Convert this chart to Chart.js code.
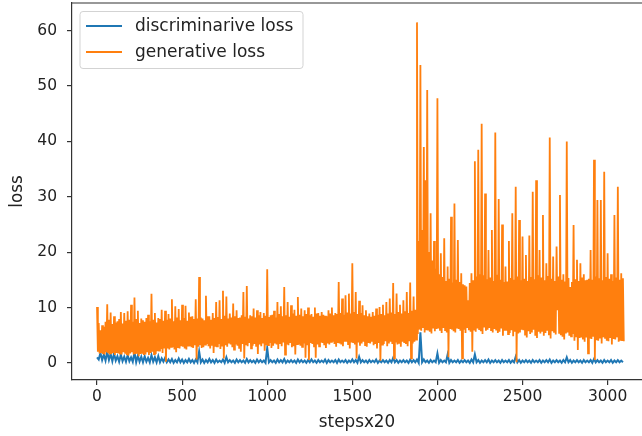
<!DOCTYPE html>
<html>
<head>
<meta charset="utf-8">
<script src="https://cdn.jsdelivr.net/npm/chart.js@4.4.0/dist/chart.umd.min.js"></script>
<style>
  html, body { margin: 0; padding: 0; background: #fff; overflow: hidden; }
</style>
</head>
<body>
<canvas id="lossChart" width="642" height="436"></canvas>
<script>
// discriminator loss, one sample every 10 steps (x axis is stepsx20)
const discLoss = [
  1.0, 0.6, 1.8, 0.5, 1.5, 0.4, 2.0, 0.5, 1.6, 0.3,
  1.7, 0.4, 1.2, 0.2, 1.5, 0.3, 1.1, 0.2, 1.4, 0.3,
  1.0, 0.2, 1.9, 0.1, 1.3, 0.2, 1.1, 0.1, 1.2, 0.2,
  0.9, 0.1, 1.4, 0.2, 1.0, 0.1, 1.2, 0.1, 0.8, 0.2,
  0.9, 0.1, 0.6, 0.1, 0.7, 0.0, 0.5, 0.1, 0.8, 0.1,
  0.6, 0.0, 0.5, 0.1, 0.7, 0.1, 0.5, 0.0, 0.6, 0.1,
  2.1, 0.1, 0.6, 0.0, 0.5, 0.1, 0.7, 0.1, 0.5, 0.0,
  0.6, 0.1, 0.4, 0.1, 0.6, 0.0, 1.0, 0.1, 0.5, 0.1,
  0.4, 0.0, 0.6, 0.1, 0.5, 0.1, 0.4, 0.0, 0.7, 0.1,
  0.5, 0.1, 0.4, 0.0, 0.6, 0.1, 0.5, 0.1, 0.4, 0.0,
  2.7, 0.1, 0.5, 0.1, 0.4, 0.0, 0.6, 0.1, 0.5, 0.1,
  0.7, 0.0, 0.4, 0.1, 0.5, 0.1, 0.4, 0.0, 0.6, 0.1,
  0.5, 0.1, 0.4, 0.0, 0.5, 0.1, 0.6, 0.1, 0.4, 0.0,
  0.5, 0.1, 0.4, 0.1, 0.6, 0.0, 0.5, 0.1, 0.4, 0.1,
  0.5, 0.0, 0.6, 0.1, 0.4, 0.1, 0.5, 0.0, 0.4, 0.1,
  0.6, 0.1, 0.5, 0.0, 1.1, 0.1, 0.5, 0.1, 0.4, 0.0,
  0.5, 0.1, 0.4, 0.1, 0.6, 0.0, 0.4, 0.1, 0.5, 0.1,
  0.4, 0.0, 0.5, 0.1, 0.9, 0.1, 0.5, 0.0, 0.4, 0.1,
  0.5, 0.1, 0.4, 0.0, 0.6, 0.1, 0.5, 0.1, 0.6, 0.0,
  5.5, 0.1, 0.6, 0.1, 0.4, 0.0, 0.5, 0.1, 0.4, 0.1,
  1.7, 0.0, 0.5, 0.1, 0.4, 0.1, 1.5, 0.0, 0.5, 0.1,
  0.4, 0.1, 0.5, 0.0, 0.4, 0.1, 0.5, 0.1, 0.4, 0.0,
  0.6, 0.1, 1.5, 0.1, 0.5, 0.0, 0.4, 0.1, 0.5, 0.1,
  0.6, 0.0, 0.4, 0.1, 0.5, 0.1, 0.4, 0.0, 0.5, 0.1,
  0.4, 0.1, 0.5, 0.0, 0.4, 0.1, 1.1, 0.1, 0.5, 0.0,
  0.4, 0.1, 0.5, 0.1, 0.4, 0.0, 0.5, 0.1, 0.4, 0.1,
  0.5, 0.0, 0.4, 0.1, 0.5, 0.1, 0.6, 0.0, 0.4, 0.1,
  0.5, 0.1, 0.4, 0.0, 0.5, 0.1, 1.0, 0.1, 0.5, 0.0,
  0.4, 0.1, 0.5, 0.1, 0.4, 0.0, 0.5, 0.1, 0.4, 0.1,
  0.5, 0.0, 0.7, 0.1, 0.5, 0.1, 0.4, 0.0, 0.5, 0.1,
  0.4, 0.1, 0.5, 0.0, 0.4, 0.1, 0.5, 0.1, 0.4, 0.1
];

// generator loss, one sample every 5 steps
const genLoss = [
  10.1, 2.0, 7.2, 1.7, 5.9, 1.8, 6.8, 1.6, 6.5, 1.5, 7.4, 1.9, 10.6, 1.9, 7.8, 1.5, 9.1, 1.6, 7.0, 1.8,
  8.4, 1.4, 7.3, 1.8, 7.5, 1.7, 7.9, 1.5, 9.2, 1.5, 7.1, 1.9, 9.0, 1.8, 7.6, 1.4, 9.3, 1.3, 7.8, 1.7,
  10.5, 1.9, 7.4, 1.5, 11.8, 1.6, 7.9, 1.8, 9.4, 1.2, 7.2, 1.6, 8.0, 1.8, 7.7, 1.4, 7.4, 1.5, 8.1, 1.9,
  8.7, 1.4, 7.5, 1.8, 12.5, 2.0, 7.8, 1.6, 9.0, 1.6, 7.3, 2.1, 8.1, 2.2, 7.9, 2.5, 9.6, 1.8, 7.6, 2.6,
  9.4, 0.2, 7.8, 2.6, 8.8, 2.4, 8.0, 2.9, 11.5, 2.8, 7.5, 2.4, 10.2, 1.9, 8.2, 2.7, 9.7, 2.6, 7.7, 3.0,
  10.5, 2.9, 8.1, 2.6, 10.3, 2.4, 7.6, 3.1, 9.1, 3.0, 8.3, 2.8, 8.4, 2.7, 7.9, 3.2, 11.5, 0.6, 8.0, 2.9,
  15.5, 3.2, 8.2, 2.7, 8.0, 2.8, 7.7, 3.3, 12.1, 3.4, 8.4, 3.0, 8.4, 2.6, 7.8, 3.1, 9.0, 1.8, 8.1, 2.9,
  11.0, 3.0, 8.3, 3.4, 11.3, 2.5, 7.9, 3.1, 13.0, 0.8, 8.5, 3.2, 12.0, 2.9, 8.0, 3.5, 8.9, 3.3, 8.2, 2.8,
  10.7, 2.4, 8.4, 3.3, 9.5, 3.1, 8.1, 2.7, 8.2, 2.0, 8.6, 3.4, 12.8, 0.8, 8.3, 3.2, 13.9, 3.0, 8.0, 3.6,
  8.6, 2.6, 8.4, 3.1, 9.8, 3.4, 8.2, 2.9, 9.5, 1.6, 8.6, 3.3, 9.2, 3.0, 8.1, 3.5, 9.0, 2.2, 8.5, 3.2,
  16.9, 3.2, 8.3, 3.6, 8.6, 2.7, 8.7, 3.1, 9.4, 3.5, 8.2, 3.3, 11.0, 2.5, 8.8, 3.4, 10.2, 3.0, 8.4, 3.7,
  13.7, 1.5, 8.6, 3.3, 11.0, 3.2, 8.3, 3.6, 10.4, 2.8, 8.9, 3.0, 9.6, 1.5, 8.5, 3.4, 11.9, 3.3, 8.7, 3.1,
  9.8, 2.9, 8.4, 3.5, 9.5, 0.9, 8.8, 3.2, 10.0, 0.5, 8.6, 3.6, 8.8, 3.4, 8.3, 3.0, 10.0, 0.9, 8.9, 3.3,
  9.0, 3.0, 8.5, 3.7, 9.2, 3.6, 8.7, 3.2, 8.5, 2.7, 8.4, 3.5, 9.5, 3.3, 8.9, 3.8, 10.0, 3.8, 8.6, 3.4,
  9.0, 2.9, 8.8, 3.6, 14.6, 3.5, 9.0, 3.3, 11.6, 3.0, 8.7, 3.8, 12.2, 3.8, 9.1, 3.4, 12.5, 2.6, 8.9, 3.7,
  18.0, 3.6, 9.2, 3.3, 12.8, 0.8, 8.8, 3.7, 11.2, 3.1, 9.0, 3.5, 10.4, 3.8, 8.6, 3.2, 9.5, 2.9, 8.4, 3.6,
  8.9, 3.5, 8.3, 3.8, 9.2, 3.2, 8.5, 3.4, 9.8, 2.6, 8.7, 3.6, 10.1, 0.4, 8.8, 3.3, 10.5, 3.4, 8.6, 3.9,
  11.0, 3.0, 8.9, 3.5, 11.6, 3.8, 9.1, 3.4, 14.4, 0.8, 8.8, 3.7, 12.5, 3.3, 9.2, 3.6, 10.5, 2.9, 8.9, 3.8,
  11.3, 3.6, 9.3, 3.4, 12.8, 3.0, 9.0, 3.9, 14.5, 0.8, 9.4, 3.5, 12.0, 3.8, 9.6, 4.2, 61.5, 5.2, 22.0, 6.0,
  53.8, 5.8, 24.0, 6.3, 39.0, 5.5, 33.0, 5.9, 49.3, 6.0, 20.0, 5.6, 27.0, 5.3, 18.5, 6.2, 22.0, 5.7, 17.0, 6.1,
  47.8, 6.2, 16.0, 5.8, 19.8, 5.4, 15.5, 6.3, 22.5, 5.9, 14.8, 5.5, 17.4, 1.0, 15.2, 6.1, 26.4, 6.0, 14.5, 5.7,
  28.8, 5.5, 15.0, 6.2, 22.2, 6.1, 14.6, 5.8, 16.2, 0.8, 14.2, 6.0, 14.0, 5.4, 13.8, 6.3, 11.3, 5.9, 14.4, 5.6,
  16.2, 2.0, 14.9, 6.0, 36.4, 5.6, 15.6, 6.2, 38.5, 6.1, 16.0, 5.7, 43.2, 5.2, 15.8, 6.4, 30.6, 5.8, 15.1, 6.0,
  20.4, 6.3, 15.4, 5.9, 24.0, 5.5, 14.8, 6.1, 41.6, 6.0, 15.9, 5.4, 29.6, 5.6, 15.0, 6.2, 25.0, 4.9, 14.6, 5.8,
  17.4, 5.8, 14.7, 5.2, 22.0, 5.4, 15.3, 5.9, 27.0, 4.8, 15.0, 5.6, 31.8, 0.1, 15.6, 5.3, 25.8, 5.5, 14.9, 6.0,
  22.8, 5.9, 15.2, 5.1, 19.5, 4.6, 14.8, 5.7, 23.0, 5.2, 15.5, 5.5, 30.9, 6.0, 15.1, 4.9, 33.0, 4.5, 15.8, 5.6,
  20.4, 5.3, 15.4, 5.8, 26.7, 4.9, 14.9, 5.4, 18.0, 5.8, 15.7, 5.0, 40.7, 4.4, 15.2, 5.7, 19.2, 5.6, 14.8, 5.1,
  21.0, 9.5, 15.6, 5.4, 30.3, 5.0, 15.0, 4.7, 16.0, 4.2, 14.7, 5.3, 40.0, 5.5, 15.3, 4.9, 13.7, 4.8, 14.6, 5.2,
  24.9, 4.0, 15.1, 4.8, 18.6, 2.3, 14.8, 4.5, 18.0, 4.6, 15.4, 4.2, 16.0, 3.8, 14.9, 4.6, 15.0, 1.7, 15.2, 4.4,
  20.4, 4.3, 15.0, 4.7, 36.7, 0.5, 15.6, 4.1, 29.4, 4.0, 15.3, 4.4, 29.4, 3.5, 14.9, 4.6, 34.5, 4.5, 15.5, 4.0,
  19.8, 3.9, 15.2, 4.5, 16.0, 3.3, 14.8, 4.3, 26.7, 4.2, 15.4, 4.6, 31.8, 3.8, 15.0, 4.0, 16.2, 4.1, 15.3, 3.9
];

const xTicks = [0, 500, 1000, 1500, 2000, 2500, 3000];
const yTicks = [0, 10, 20, 30, 40, 50, 60];
const discSteps = discLoss.map((_, i) => i * 10);
const genSteps = genLoss.map((_, i) => i * 5);

const textColor = '#222';
const spineColor = '#333';

// matplotlib-style legend box inside the axes, upper left
const boxLegend = {
  id: 'boxLegend',
  afterDraw(chart) {
    const ctx = chart.ctx;
    const a = chart.chartArea;
    const x0 = a.left + 8, y0 = a.top + 8.5, w = 223, h = 57;
    ctx.save();
    ctx.beginPath();
    ctx.roundRect(x0, y0, w, h, 3);
    ctx.fillStyle = 'rgba(255,255,255,0.8)';
    ctx.fill();
    ctx.strokeStyle = '#d3d3d3';
    ctx.lineWidth = 1;
    ctx.stroke();
    ctx.font = '17px "DejaVu Sans"';
    ctx.textBaseline = 'middle';
    ctx.fillStyle = textColor;
    chart.data.datasets.forEach((ds, i) => {
      const y = y0 + 14.5 + i * 26;
      ctx.beginPath();
      ctx.moveTo(x0 + 6, y);
      ctx.lineTo(x0 + 42, y);
      ctx.strokeStyle = ds.borderColor;
      ctx.lineWidth = 2.2;
      ctx.stroke();
      ctx.fillText(ds.label, x0 + 55, y + 1);
    });
    ctx.restore();
  }
};

// top spine; the figure is cropped so the right spine is not shown
const topSpine = {
  id: 'topSpine',
  afterDraw(chart) {
    const ctx = chart.ctx;
    const a = chart.chartArea;
    ctx.save();
    ctx.beginPath();
    ctx.moveTo(a.left, a.top);
    ctx.lineTo(a.right, a.top);
    ctx.strokeStyle = spineColor;
    ctx.lineWidth = 1.2;
    ctx.stroke();
    ctx.restore();
  }
};

new Chart(document.getElementById('lossChart'), {
  type: 'line',
  data: {
    datasets: [{
      label: 'discriminarive loss',
      data: discLoss.map((v, i) => ({ x: discSteps[i], y: v })),
      borderColor: '#1f77b4',
      borderWidth: 2,
      pointRadius: 0,
      order: 1
    }, {
      label: 'generative loss',
      data: genLoss.map((v, i) => ({ x: genSteps[i], y: v })),
      borderColor: '#ff7f0e',
      borderWidth: 1.8,
      pointRadius: 0,
      order: 0
    }]
  },
  options: {
    responsive: false,
    animation: false,
    events: [],
    layout: { padding: { top: 3, right: 0, left: 0, bottom: 0 } },
    scales: {
      x: {
        type: 'linear',
        min: -147,
        max: 3202,
        afterBuildTicks: s => { s.ticks = xTicks.map(v => ({ value: v })); },
        afterFit: s => { s.height = 56; s.paddingLeft = 0; s.paddingRight = 0; },
        grid: { drawOnChartArea: false, drawTicks: true, tickLength: 5, color: spineColor, lineWidth: 1.2 },
        border: { color: spineColor, width: 1.2 },
        ticks: { color: textColor, font: { family: 'DejaVu Sans', size: 15.5 }, padding: 3, maxRotation: 0, callback: v => String(v) },
        title: { display: true, text: 'stepsx20', color: textColor, font: { family: 'DejaVu Sans', size: 16.8 }, padding: { top: 0, bottom: 3 } }
      },
      y: {
        min: -3.1,
        max: 65,
        afterBuildTicks: s => { s.ticks = yTicks.map(v => ({ value: v })); },
        afterFit: s => { s.width = 72; s.paddingTop = 0; s.paddingBottom = 0; },
        grid: { drawOnChartArea: false, drawTicks: true, tickLength: 5, color: spineColor, lineWidth: 1.2 },
        border: { color: spineColor, width: 1.2 },
        ticks: { color: textColor, font: { family: 'DejaVu Sans', size: 15.5 }, padding: 10, callback: v => String(v) },
        title: { display: true, text: 'loss', color: textColor, font: { family: 'DejaVu Sans', size: 16.8 }, padding: { top: 8, bottom: 0 } }
      }
    },
    plugins: {
      legend: { display: false },
      tooltip: { enabled: false }
    }
  },
  plugins: [boxLegend, topSpine]
});
</script>
</body>
</html>
